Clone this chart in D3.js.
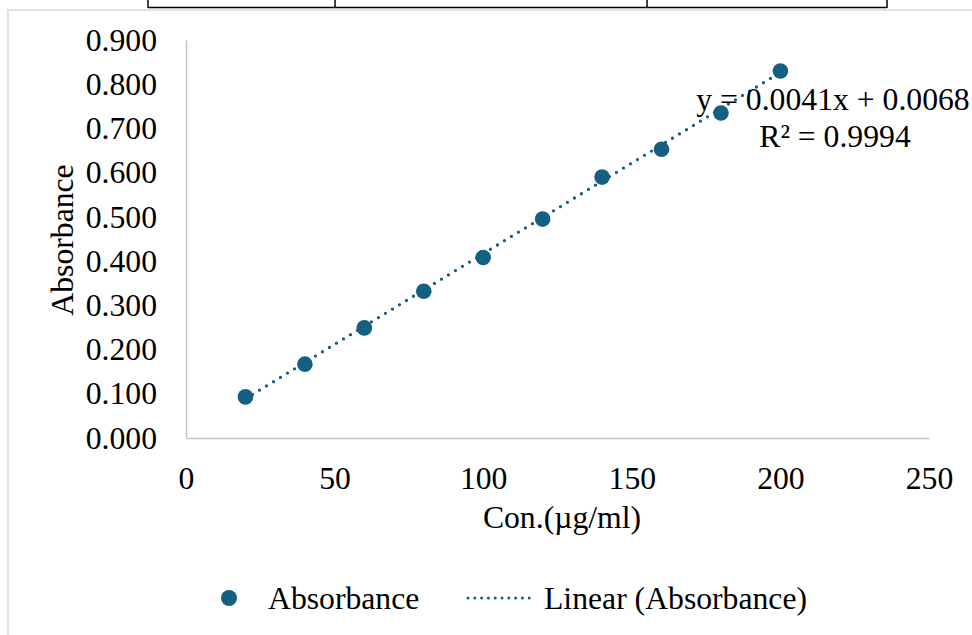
<!DOCTYPE html>
<html lang="en">
<head>
<meta charset="utf-8">
<title>Absorbance calibration</title>
<script src="https://cdn.jsdelivr.net/npm/d3@7"></script>
<style>
  body { margin: 0; background: #fff; }
  text { font-family: "Liberation Serif", "Times New Roman", serif; fill: #000; }
</style>
</head>
<body>
<script>
// calibration readings
var conc = [20, 40, 60, 80, 100, 120, 140, 160, 180, 200];
var absorbance = [0.093, 0.167, 0.249, 0.332, 0.408, 0.495, 0.590, 0.653, 0.735, 0.830];

// fitted line as reported on the chart
var slope = 0.0041;
var intercept = 0.0068;
var rSquared = 0.9994;

var xTicks = [0, 50, 100, 150, 200, 250];
var yTicks = [0, 0.1, 0.2, 0.3, 0.4, 0.5, 0.6, 0.7, 0.8, 0.9];

var blue = "#156082";
var fontSize = 31.7;

var W = 972, H = 635;
var plot = {left: 186, right: 929, top: 40, bottom: 438};

var svg = d3.select("body").append("svg")
  .attr("width", W)
  .attr("height", H);

// bit of the table sitting above the chart
var tableCols = [148, 335, 647, 887];
svg.append("line")
  .attr("x1", tableCols[0]).attr("x2", tableCols[3])
  .attr("y1", 7.5).attr("y2", 7.5)
  .attr("stroke", "#000").attr("stroke-width", 1.5);
svg.selectAll(".tcol").data(tableCols).enter().append("line")
  .attr("class", "tcol")
  .attr("x1", function(d) { return d; }).attr("x2", function(d) { return d; })
  .attr("y1", 0).attr("y2", 8)
  .attr("stroke", "#000").attr("stroke-width", 1.5);

// chart frame
svg.append("rect")
  .attr("x", 8).attr("y", 10)
  .attr("width", W + 20).attr("height", H + 20)
  .attr("fill", "none")
  .attr("stroke", "#d9d9d9")
  .attr("stroke-width", 1.5);

var x = d3.scaleLinear().domain([0, 250]).range([plot.left, plot.right]);
var y = d3.scaleLinear().domain([0, 0.9]).range([plot.bottom, plot.top]);

var xAxis = d3.axisBottom(x).tickValues(xTicks).tickSize(0).tickPadding(28);
var yAxis = d3.axisLeft(y).tickValues(yTicks).tickSize(0).tickPadding(29)
  .tickFormat(d3.format(".3f"));

var gx = svg.append("g")
  .attr("transform", "translate(0," + plot.bottom + ")")
  .call(xAxis);
var gy = svg.append("g")
  .attr("transform", "translate(" + plot.left + ",0)")
  .call(yAxis);

[gx, gy].forEach(function(g) {
  g.attr("font-family", null).attr("font-size", null);
  g.select(".domain").attr("stroke", "#c4c4c4").attr("stroke-width", 1.5);
  g.selectAll("text").style("font-size", fontSize + "px");
});

// axis titles
svg.append("text")
  .attr("x", 562).attr("y", 528)
  .attr("text-anchor", "middle")
  .style("font-size", fontSize + "px")
  .text("Con.(\u00b5g/ml)");

svg.append("text")
  .attr("transform", "translate(73,240) rotate(-90)")
  .attr("text-anchor", "middle")
  .style("font-size", fontSize + "px")
  .text("Absorbance");

// trendline across the data range
var xMin = d3.min(conc), xMax = d3.max(conc);
svg.append("line")
  .attr("x1", x(xMin)).attr("y1", y(slope * xMin + intercept))
  .attr("x2", x(xMax)).attr("y2", y(slope * xMax + intercept))
  .attr("stroke", blue)
  .attr("stroke-width", 3.3)
  .attr("stroke-linecap", "round")
  .attr("stroke-dasharray", "0 8.2");

// points
svg.selectAll(".pt").data(conc).enter().append("circle")
  .attr("class", "pt")
  .attr("cx", function(d) { return x(d); })
  .attr("cy", function(d, i) { return y(absorbance[i]); })
  .attr("r", 7.8)
  .attr("fill", blue);

// equation label
svg.append("text")
  .attr("x", 833).attr("y", 110)
  .attr("text-anchor", "middle")
  .style("font-size", fontSize + "px")
  .text("y = " + slope.toFixed(4) + "x + " + intercept.toFixed(4));
svg.append("text")
  .attr("x", 835).attr("y", 147)
  .attr("text-anchor", "middle")
  .style("font-size", fontSize + "px")
  .text("R\u00b2 = " + rSquared.toFixed(4));

// legend
var legendY = 598;
svg.append("circle")
  .attr("cx", 229).attr("cy", legendY).attr("r", 8)
  .attr("fill", blue);
svg.append("text")
  .attr("x", 268).attr("y", legendY + 11)
  .style("font-size", fontSize + "px")
  .text("Absorbance");
svg.append("line")
  .attr("x1", 468).attr("x2", 536)
  .attr("y1", legendY).attr("y2", legendY)
  .attr("stroke", blue)
  .attr("stroke-width", 3)
  .attr("stroke-linecap", "round")
  .attr("stroke-dasharray", "0 6.8");
svg.append("text")
  .attr("x", 544).attr("y", legendY + 11)
  .style("font-size", fontSize + "px")
  .text("Linear (Absorbance)");
</script>
</body>
</html>
